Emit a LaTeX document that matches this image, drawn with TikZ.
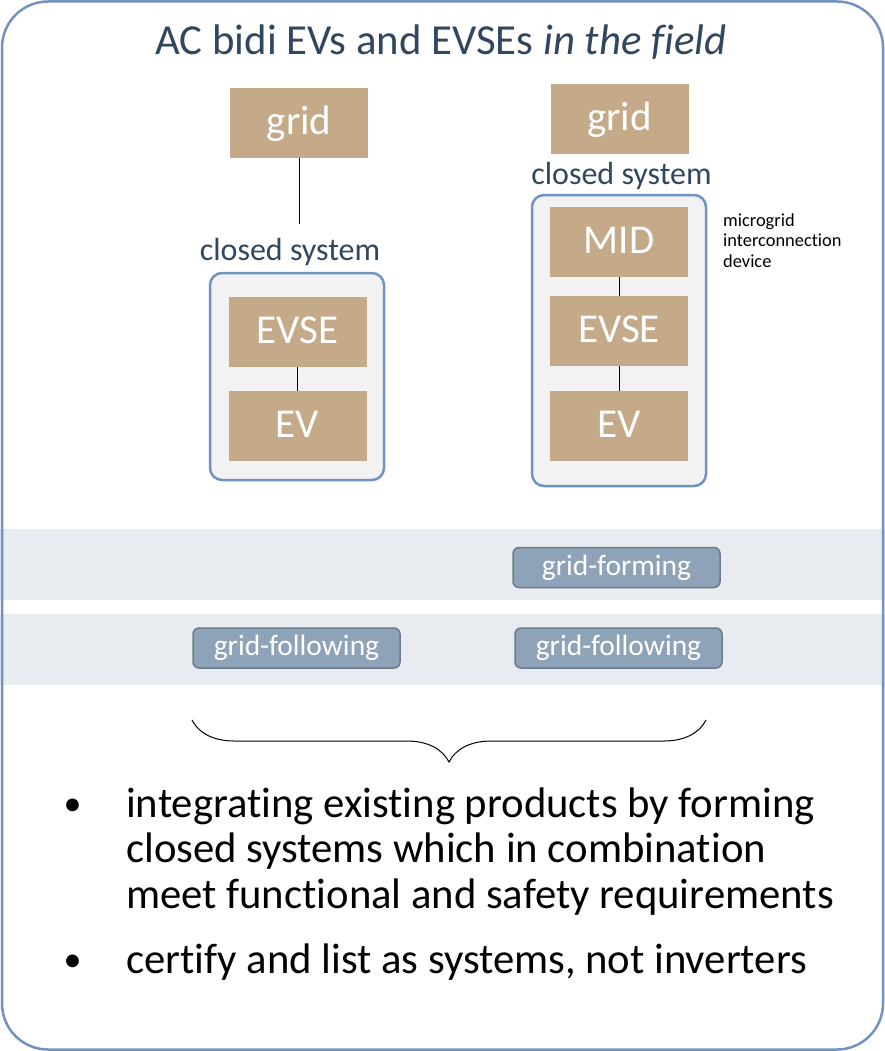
\documentclass[tikz,border=0pt]{standalone}
\usepackage{fontspec}
\setmainfont{Carlito}[Ligatures=NoCommon]
\usetikzlibrary{decorations.pathreplacing}
\definecolor{tan}{HTML}{C4AA88}
\definecolor{navy}{HTML}{31475F}
\definecolor{frame}{HTML}{7293C1}
\definecolor{band}{HTML}{E8EBF0}
\definecolor{pill}{HTML}{8FA3B8}
\definecolor{pilledge}{HTML}{6A7B8D}
\tikzstyle{unit}=[rectangle, fill=tan, text=white, minimum width=138pt, minimum height=70pt, inner sep=0, text height=29pt, text depth=6pt, font=\fontsize{41}{48}\selectfont]
\tikzstyle{sysbox}=[rectangle, rounded corners=12pt, draw=frame, line width=2.5pt, fill=black!5, inner sep=0]
\tikzstyle{syslabel}=[text=navy, inner sep=0, anchor=base, font=\fontsize{32}{38}\selectfont]
\tikzstyle{mode}=[rectangle, rounded corners=6pt, draw=pilledge, line width=1.5pt, fill=pill, text=white, minimum width=207pt, minimum height=40pt, inner sep=0, font=\fontsize{29.5}{34}\selectfont]
\tikzstyle{wire}=[line width=1pt, black]
\tikzstyle{bullettext}=[inner sep=0, anchor=base west, align=left, font=\fontsize{42.7}{45.5}\selectfont]
\tikzstyle{dot}=[inner sep=0, anchor=base, font=\fontsize{36}{45.5}\selectfont]
\begin{document}
\begin{tikzpicture}[x=1pt,y=-1pt]
\useasboundingbox (0,0) rectangle (885,1051);
% bands
\fill[band] (0,529) rectangle (885,600);
\fill[band] (0,614) rectangle (885,685);
\draw[frame,line width=2.5pt,rounded corners=46pt] (2,1.5) rectangle (883,1049.5);
\node[text=navy, inner sep=0, anchor=base, font=\fontsize{42.8}{48}\selectfont] (title) at (441,55) {AC bidi EVs and EVSEs \textit{in the field}};
% left column
\node[sysbox, minimum width=174pt, minimum height=207pt] (lsys) at (297,376.5) {};
\node[unit] (lgrid) at (299,123) {grid};
\coordinate (ltap) at (299,224);
\draw[wire] (lgrid) -- (ltap);
\node[syslabel] (llabel) at (290,260) {closed system};
\node[unit] (levse) at (297.5,332) {EVSE};
\node[unit] (lev) at (297.5,426) {EV};
\draw[wire] (levse) -- (lev);
% right column
\node[sysbox, minimum width=174pt, minimum height=291pt] (rsys) at (619,340.5) {};
\node[unit] (rgrid) at (619.5,119) {grid};
\node[syslabel] (rlabel) at (621.5,185) {closed system};
\node[unit] (mid) at (619,242) {MID};
\node[unit] (revse) at (619,331) {EVSE};
\node[unit] (rev) at (619,426) {EV};
\draw[wire] (mid) -- (revse);
\draw[wire] (revse) -- (rev);
\node[inner sep=0, anchor=base west, align=left, font=\fontsize{18.4}{20.5}\selectfont] (midnote) at (723,267) {microgrid\\interconnection\\device};
% modes
\node[mode] (forming) at (616.5,567.5) {grid-forming};
\node[mode] (lfollow) at (296.5,648) {grid-following};
\node[mode] (rfollow) at (618.5,648) {grid-following};
\coordinate (bright) at (706,720);
\coordinate (bleft) at (192,720);
\draw[wire, decorate, decoration={brace, amplitude=42pt}] (bright) -- (bleft);
% bullets
\node[dot] (dot1) at (72.5,815) {•};
\node[bullettext] (item1) at (126,908) {integrating existing products by forming\\closed systems which in combination\\meet functional and safety requirements};
\node[dot] (dot2) at (72.5,971) {•};
\node[bullettext] (item2) at (126,973) {certify and list as systems, not inverters};
\end{tikzpicture}
\end{document}
